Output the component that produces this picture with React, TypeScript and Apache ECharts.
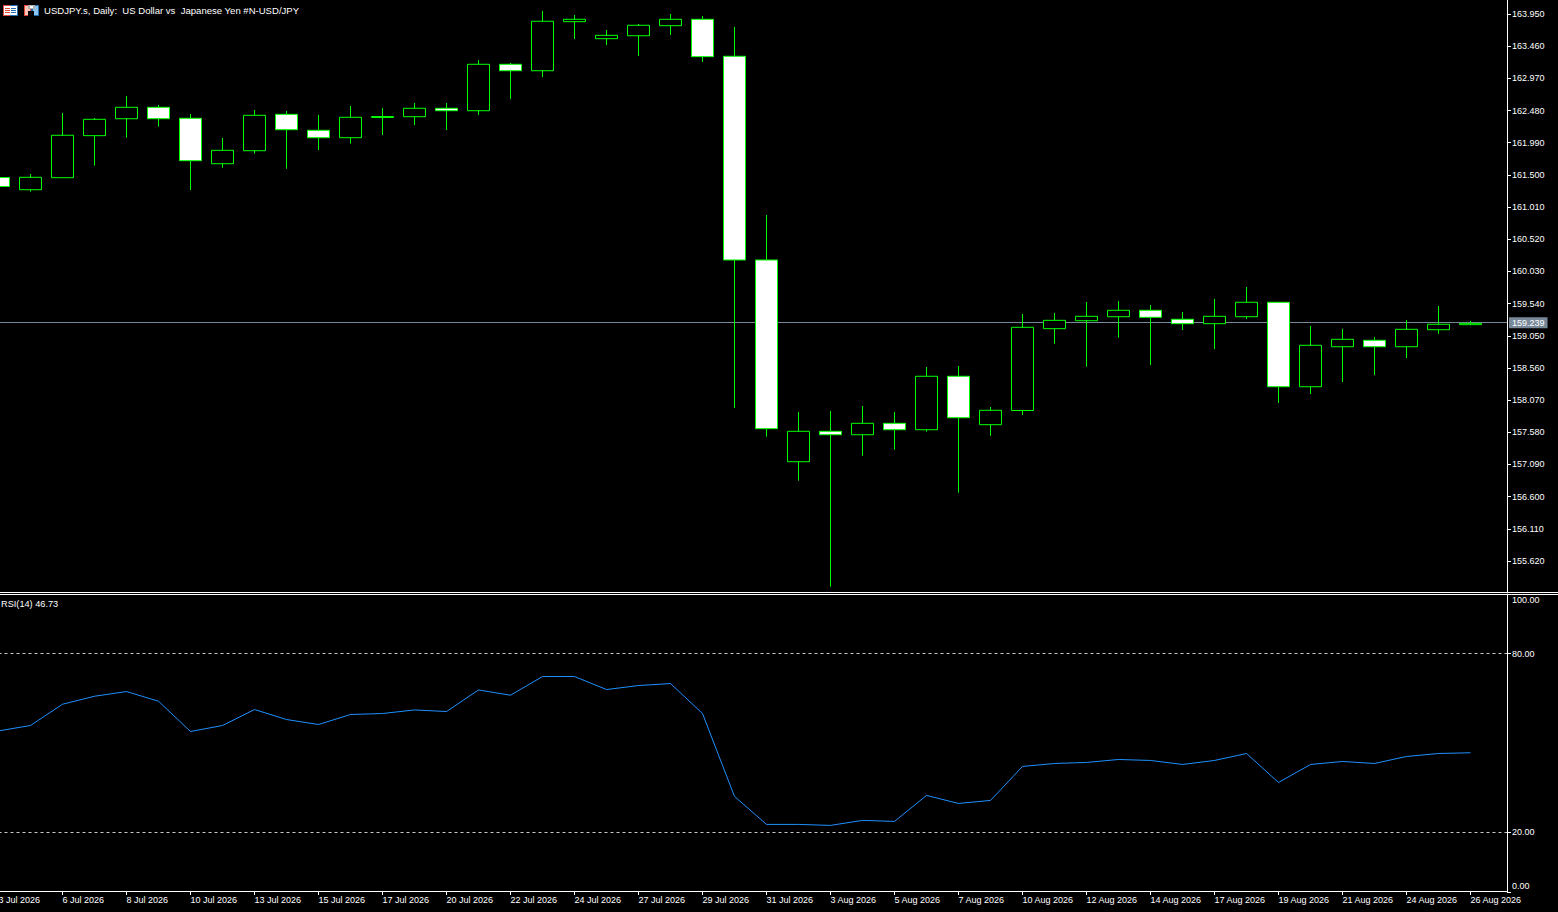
import React, { useEffect, useRef } from "react";
import * as echarts from "echarts";

const dates = ["3 Jul 2026","3 Jul","6 Jul 2026","7 Jul","8 Jul 2026","9 Jul","10 Jul 2026","11 Jul","13 Jul 2026","14 Jul","15 Jul 2026","16 Jul","17 Jul 2026","18 Jul","20 Jul 2026","21 Jul","22 Jul 2026","23 Jul","24 Jul 2026","25 Jul","27 Jul 2026","28 Jul","29 Jul 2026","30 Jul","31 Jul 2026","1 Aug","3 Aug 2026","4 Aug","5 Aug 2026","6 Aug","7 Aug 2026","8 Aug","10 Aug 2026","11 Aug","12 Aug 2026","13 Aug","14 Aug 2026","15 Aug","17 Aug 2026","18 Aug","19 Aug 2026","20 Aug","21 Aug 2026","22 Aug","24 Aug 2026","25 Aug","26 Aug 2026"];

const opens = [161.460,161.274,161.457,162.097,162.355,162.529,162.362,161.670,161.868,162.422,162.179,162.066,162.374,162.386,162.514,162.477,163.184,163.086,163.833,163.574,163.619,163.772,163.869,163.306,160.204,157.132,157.595,157.543,157.717,157.619,158.433,157.696,157.912,159.158,159.279,159.340,159.438,159.301,159.234,159.340,159.560,158.274,158.883,158.981,158.883,159.142,159.219];
const closes = [161.323,161.463,162.103,162.346,162.529,162.355,161.716,161.874,162.407,162.188,162.066,162.377,162.389,162.514,162.477,163.184,163.086,163.839,163.869,163.625,163.778,163.869,163.300,160.204,157.635,157.595,157.543,157.717,157.619,158.433,157.802,157.915,159.179,159.285,159.346,159.438,159.331,159.234,159.346,159.560,158.274,158.905,158.996,158.883,159.148,159.225,159.239];
const lows = [161.300,161.244,161.457,161.640,162.066,162.234,161.270,161.609,161.822,161.594,161.879,161.975,162.107,162.259,162.183,162.412,162.655,162.990,163.569,163.478,163.310,163.630,163.219,157.950,157.513,156.843,155.229,157.224,157.315,157.589,156.660,157.528,157.843,158.929,158.579,159.021,158.605,159.138,158.848,159.305,158.026,158.163,158.346,158.452,158.711,159.081,159.219];
const highs = [161.483,161.513,162.442,162.366,162.701,162.564,162.427,162.062,162.488,162.473,162.412,162.549,162.518,162.595,162.595,163.249,163.204,163.995,163.935,163.706,163.798,163.950,163.919,163.752,160.889,157.889,157.904,157.980,157.889,158.574,158.590,157.965,159.381,159.397,159.564,159.579,159.518,159.412,159.610,159.793,159.564,159.199,159.153,159.031,159.290,159.503,159.275];
const rsi = [54.06,55.87,63.01,65.69,67.27,64.02,53.86,55.87,61.23,57.88,56.2,59.56,59.89,61.1,60.56,67.8,66.03,72.3,72.3,67.94,69.28,69.95,59.89,32.07,22.68,22.68,22.35,24.02,23.69,32.4,29.72,30.73,42.13,43.13,43.47,44.47,44.14,42.8,44.14,46.48,36.76,42.8,43.8,43.13,45.48,46.48,46.73];

const priceTicks = [163.95,163.46,162.97,162.48,161.99,161.5,161.01,160.52,160.03,159.54,159.05,158.56,158.07,157.58,157.09,156.6,156.11,155.62];
const rsiTicks = [0,20,80,100];
const dateTicks = [0,2,4,6,8,10,12,14,16,18,20,22,24,26,28,30,32,34,36,38,40,42,44,46];
const lastPrice = 159.239;
const chartTitle = "USDJPY.s, Daily:  US Dollar vs  Japanese Yen #N-USD/JPY";
const rsiTitle = "RSI(14) 46.73";

const FONT = '"Liberation Sans", Arial, sans-serif';

export default function App() {
  const ref = useRef<HTMLDivElement>(null);
  useEffect(() => {
    const chart = echarts.init(ref.current!, undefined, { renderer: "svg" });
    const bar = (x: number, y: number, w: number, h: number, fill: string) => ({
      type: "rect", silent: true, z: 20, shape: { x, y, width: w, height: h }, style: { fill },
    });
    const red = "#e0483e";
    const blue = "#1f6fb0";
    const edgeText = { color: "#ffffff", fontFamily: FONT, fontSize: 9 };
    chart.setOption({
      animation: false,
      backgroundColor: "#000000",
      textStyle: { fontFamily: FONT, fontSize: 9, color: "#ffffff" },
      title: [
        { text: chartTitle, left: 44, top: 5, padding: 0, textStyle: { color: "#ffffff", fontFamily: FONT, fontSize: 9.55, fontWeight: "normal", lineHeight: 11 } },
        { text: rsiTitle, left: 1, top: 599, padding: 0, textStyle: { color: "#ffffff", fontFamily: FONT, fontSize: 9.2, fontWeight: "normal", lineHeight: 10 } },
      ],
      grid: [
        { left: -1.5, top: 0, width: 1508.5, height: 592, outerBoundsMode: "none", containLabel: false },
        { left: -1.5, top: 594, width: 1508.5, height: 298, outerBoundsMode: "none", containLabel: false },
      ],
      xAxis: [
        { type: "value", gridIndex: 0, min: 0, max: 47.140625, show: false, splitLine: { show: false } },
        {
          type: "value", gridIndex: 1, min: 0, max: 47.140625, offset: -1, position: "bottom",
          splitLine: { show: false },
          axisLine: { show: true, onZero: false, lineStyle: { color: "#ffffff", width: 1 } },
          axisTick: { show: true, length: 4, customValues: dateTicks, lineStyle: { color: "#ffffff", width: 1 } },
          axisLabel: {
            show: true, customValues: dateTicks, margin: 4, color: "#ffffff", fontFamily: FONT, fontSize: 9,
            align: "left", hideOverlap: false, showMinLabel: true, showMaxLabel: true,
            formatter: (v: number) => dates[Math.round(v)],
          },
        },
      ],
      yAxis: [
        {
          type: "value", gridIndex: 0, position: "right", min: 155.148, max: 164.163, scale: true,
          splitLine: { show: false },
          axisLine: { show: true, onZero: false, lineStyle: { color: "#ffffff", width: 1 } },
          axisTick: { show: true, length: 4, customValues: priceTicks, lineStyle: { color: "#ffffff", width: 1 } },
          axisLabel: {
            show: true, customValues: priceTicks, margin: 5, color: "#ffffff", fontFamily: FONT, fontSize: 9,
            formatter: (v: number) => v.toFixed(3),
          },
        },
        {
          type: "value", gridIndex: 1, position: "right", min: 0, max: 100,
          splitLine: { show: false },
          axisLine: { show: true, onZero: false, lineStyle: { color: "#ffffff", width: 1 } },
          axisTick: { show: true, length: 4, customValues: rsiTicks, lineStyle: { color: "#ffffff", width: 1 } },
          axisLabel: {
            show: true, customValues: rsiTicks, margin: 5, color: "#ffffff", fontFamily: FONT, fontSize: 9,
            verticalAlignMinLabel: "bottom", verticalAlignMaxLabel: "top",
            formatter: (v: number) => (v === 0 ? `{lo|${v.toFixed(2)}}` : v === 100 ? `{hi|${v.toFixed(2)}}` : v.toFixed(2)),
            rich: {
              lo: { ...edgeText, padding: [0, 0, 2, 0] },
              hi: { ...edgeText, padding: [1, 0, 0, 0] },
            },
          },
        },
      ],
      series: [
        {
          type: "candlestick", xAxisIndex: 0, yAxisIndex: 0, barWidth: 22, silent: true, z: 3,
          dimensions: ["x", "open", "close", "low", "high"],
          itemStyle: { color: "#000000", color0: "#ffffff", borderColor: "#00ff00", borderColor0: "#00ff00", borderColorDoji: "#00ff00", borderWidth: 1 },
          data: opens.map((o, i) => [i, o, closes[i], lows[i], highs[i]]),
          markLine: {
            silent: true, symbol: "none", animation: false, z: 1,
            lineStyle: { color: "#778899", width: 1, type: "solid", opacity: 1 },
            label: {
              show: true, position: "end", distance: 2, formatter: lastPrice.toFixed(3), color: "#ffffff",
              fontFamily: FONT, fontSize: 9, backgroundColor: "#778899", padding: [1, 3, 1, 3],
            },
            data: [{ yAxis: lastPrice + 0.008 }], // pixel-rounding nudge so the line lands on the same row
          },
        },
        {
          type: "line", xAxisIndex: 1, yAxisIndex: 1, symbol: "none", silent: true,
          lineStyle: { color: "#1e90ff", width: 1 },
          data: rsi.map((v, i) => [i, v]),
          markLine: {
            silent: true, symbol: "none", animation: false,
            lineStyle: { color: "#c8c8c8", width: 1, type: [3, 3] },
            label: { show: false },
            data: [{ yAxis: 80 }, { yAxis: 20 }],
          },
        },
      ],
      graphic: [
        bar(0, 592, 1558, 1, "#ffffff"),
        bar(0, 594, 1558, 1, "#ffffff"),
        // table icon
        bar(3, 5, 15, 11, red),
        bar(10, 5, 8, 11, blue),
        bar(4, 6, 13, 9, "#ffffff"),
        bar(5, 8, 5, 1, red), bar(5, 10, 5, 1, red), bar(5, 12, 5, 1, red),
        bar(11, 8, 5, 1, blue), bar(11, 10, 5, 1, blue), bar(11, 12, 5, 1, blue),
        // disk icon
        bar(24, 5, 7, 11, red),
        bar(31, 5, 8, 11, blue),
        bar(25, 6, 5, 9, "#ffc4b8"),
        bar(33, 6, 5, 9, "#8cc4ee"),
        bar(28, 5, 7, 4, "#b0b0b0"),
        bar(30, 6, 3, 2, "#ffffff"),
        bar(28, 11, 6, 5, "#000000"),
      ],
    });
    return () => chart.dispose();
  }, []);
  return <div ref={ref} style={{ position: "fixed", left: 0, top: 0, width: 1558, height: 912, background: "#000" }} />;
}
